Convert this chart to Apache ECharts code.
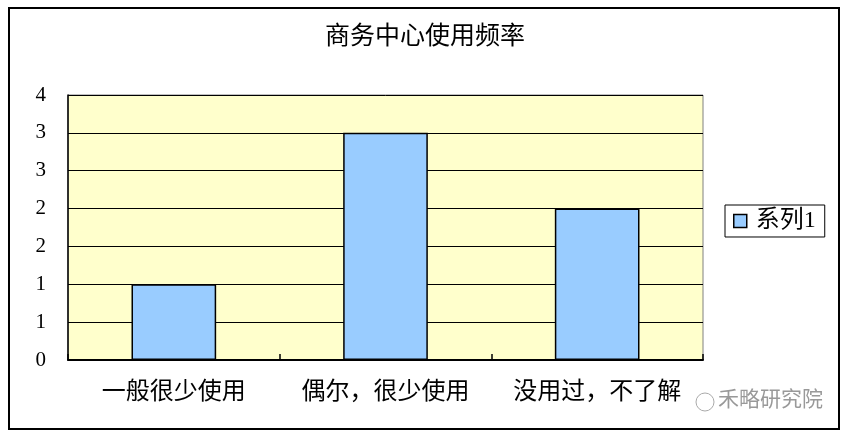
<!DOCTYPE html>
<html>
<head>
<meta charset="utf-8">
<script src="https://cdn.jsdelivr.net/npm/echarts@6/dist/echarts.min.js"></script>
<style>html,body{margin:0;padding:0;background:#fff}#c{width:850px;height:438px}</style>
</head>
<body>
<div id="c"></div>
<script>
const titleText = '商务中心使用频率';
const categories = ['一般很少使用', '偶尔，很少使用', '没用过，不了解'];
const seriesName = '系列1';
const values = [1, 3, 2];
const yMin = 0, yMax = 3.5, yStep = 0.5;
const watermark = '禾略研究院';

const FONT = '"Liberation Serif", "Noto Sans CJK SC", serif';
const chart = echarts.init(document.getElementById('c'));
chart.setOption({
  animation: false,
  backgroundColor: '#fff',
  title: {
    text: titleText, left: 'center', top: 20,
    textStyle: { fontFamily: FONT, fontSize: 25, fontWeight: 'normal', color: '#000' }
  },
  legend: {
    left: 725, top: 205,
    data: [seriesName],
    icon: 'rect', itemWidth: 13, itemHeight: 13, itemGap: 6,
    borderColor: '#000', borderWidth: 1, padding: [4, 9, 4, 8],
    textStyle: { fontFamily: FONT, fontSize: 24, color: '#000', padding: [0, 0, 0, 4] },
    itemStyle: { borderColor: '#000', borderWidth: 1.5 }
  },
  grid: {
    left: 68, top: 95, right: 147, bottom: 78,
    show: true, backgroundColor: '#FFFFCC', borderColor: '#808080', borderWidth: 1
  },
  xAxis: {
    type: 'category', data: categories,
    axisLine: { lineStyle: { color: '#000', width: 2 } },
    axisTick: { show: true, inside: true, length: 6, lineStyle: { color: '#000', width: 1.5 } },
    axisLabel: { fontFamily: FONT, fontSize: 24, color: '#000', margin: 21, interval: 0 }
  },
  yAxis: {
    type: 'value', min: yMin, max: yMax, interval: yStep,
    axisLine: { show: true, lineStyle: { color: '#000', width: 1.5 } },
    axisTick: { show: false },
    splitLine: { lineStyle: { color: '#000', width: 1 } },
    axisLabel: {
      fontFamily: FONT, fontSize: 21, color: '#000', margin: 22,
      formatter: v => String(Math.round(v))
    }
  },
  series: [{
    name: seriesName, type: 'bar', data: values, barWidth: '40%',
    itemStyle: { color: '#99CCFF', borderColor: '#000', borderWidth: 1.5 }
  }],
  graphic: [
    { type: 'rect', shape: { x: 9, y: 8, width: 830, height: 421 },
      style: { fill: 'none', stroke: '#000', lineWidth: 2 }, z: 100 },
    { type: 'circle', shape: { cx: 705, cy: 402, r: 9 },
      style: { fill: 'rgba(255,255,255,0.85)', stroke: '#aaa', lineWidth: 1 }, z: 100 },
    { type: 'text', left: 718, top: 390,
      style: { text: watermark, fontFamily: FONT, fontSize: 21, fill: '#999' }, z: 100 }
  ]
});
</script>
</body>
</html>
